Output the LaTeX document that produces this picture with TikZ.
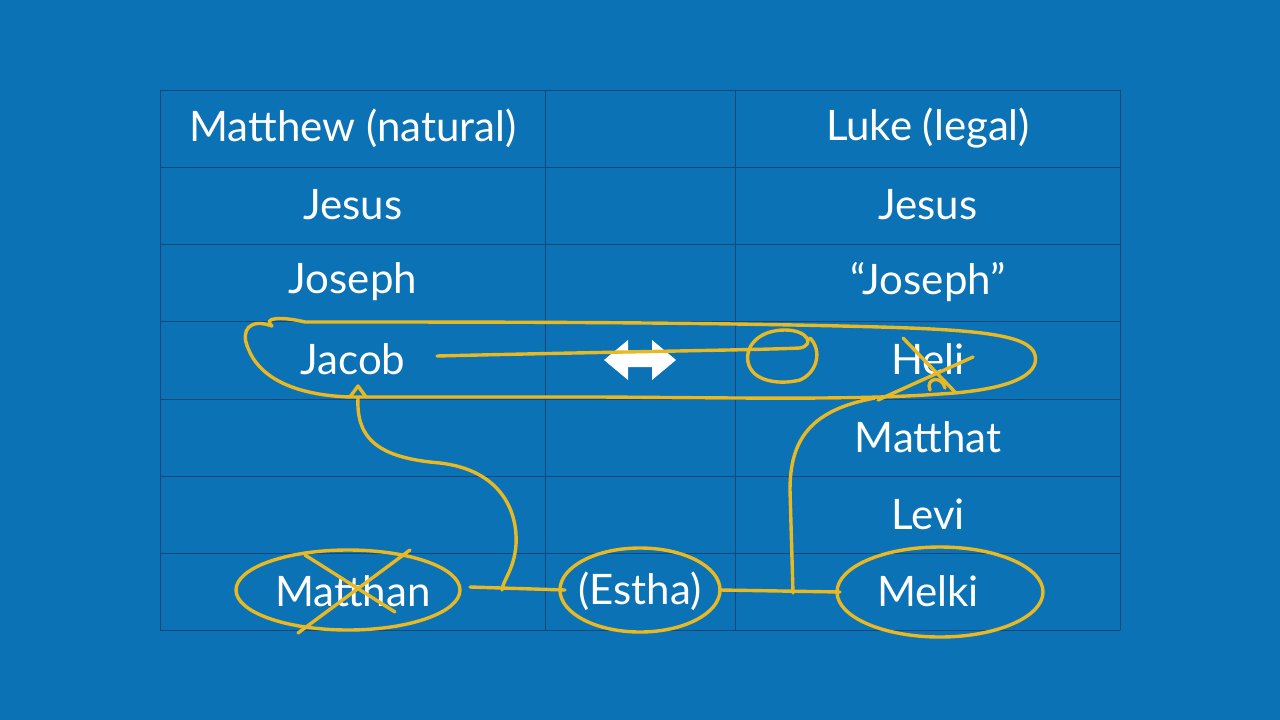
\documentclass[tikz,border=0pt]{standalone}
\usepackage{fontspec}
\setmainfont{Lato}
\begin{document}
\begin{tikzpicture}[x=1pt,y=-1pt,
  cell/.style={text=white,font=\fontsize{42}{46}\selectfont},
  ink/.style={draw={rgb,255:red,232;green,185;blue,35},line width=3.4pt,line cap=round,line join=round}]
\definecolor{bg}{RGB}{11,114,181}
\definecolor{grid}{RGB}{20,70,120}
\fill[bg] (0,0) rectangle (1280,720);
\useasboundingbox (0,0) rectangle (1280,720);
\foreach \y in {90,167,244,321,399,476,553,630} \draw[grid,line width=0.8pt] (160,\y) -- (1120,\y);
\foreach \x in {160,545,735,1120} \draw[grid,line width=0.8pt] (\x,90) -- (\x,630);
\node[cell] (h1) at (353,128) {Matthew (natural)};
\node[cell] (h3) at (928,128) {Luke (legal)};
\node[cell] (a1) at (353,205) {Jesus};
\node[cell] (a3) at (928,205) {Jesus};
\node[cell] (b1) at (353,282) {Joseph};
\node[cell] (b3) at (928,282) {“Joseph”};
\node[cell] (c1) at (353,359) {Jacob};
\node[cell] (c3) at (928,359) {Heli};
\node[cell] (d3) at (928,437) {Matthat};
\node[cell] (e3) at (928,514) {Levi};
\node[cell] (f1) at (353,591) {Matthan};
\node[cell] (f2) at (640,591) {(Estha)};
\node[cell] (f3) at (928,591) {Melki};
% white double arrow
\fill[white] (604,360) -- (628,340) -- (628,353) -- (652,353) -- (652,340) -- (676,360) -- (652,380) -- (652,367) -- (628,367) -- (628,380) -- cycle;
% yellow annotations
\draw[ink] (305,322) .. controls (280,316) and (262,318) .. (272,326) .. controls (250,318) and (240,330) .. (248,348)
  .. controls (258,375) and (290,395) .. (350,397) -- (600,397) .. controls (750,398) and (860,400) .. (940,394)
  .. controls (1010,390) and (1040,375) .. (1035,355) .. controls (1030,335) and (980,330) .. (880,327)
  .. controls (700,322) and (500,322) .. (305,322);
\draw[ink] (437,356) .. controls (600,352) and (760,350) .. (800,348) .. controls (815,345) and (808,330) .. (785,330)
  .. controls (760,330) and (745,345) .. (748,362) .. controls (752,382) and (780,385) .. (800,380) .. controls (818,372) and (822,350) .. (810,338);
\draw[ink] (350,397) -- (358,386) -- (366,397);
\draw[ink] (358,398) .. controls (356,440) and (380,458) .. (440,463) .. controls (500,470) and (518,510) .. (516,545) .. controls (514,570) and (503,580) .. (502,590);
\draw[ink] (348,590) ellipse [x radius=112, y radius=40];
\draw[ink] (298,633) -- (410,550);
\draw[ink] (305,555) -- (395,612);
\draw[ink] (470,587) -- (565,590);
\draw[ink] (640,590) ellipse [x radius=80, y radius=42];
\draw[ink] (720,590) -- (840,592);
\draw[ink] (793,593) -- (790,490) .. controls (790,440) and (810,410) .. (875,398);
\draw[ink] (903,338) -- (955,392);
\draw[ink] (973,357) -- (878,400);
\draw[ink] (930,390) .. controls (925,378) and (942,375) .. (945,388);
\draw[ink] (940,592) ellipse [x radius=103, y radius=45];
\end{tikzpicture}
\end{document}
